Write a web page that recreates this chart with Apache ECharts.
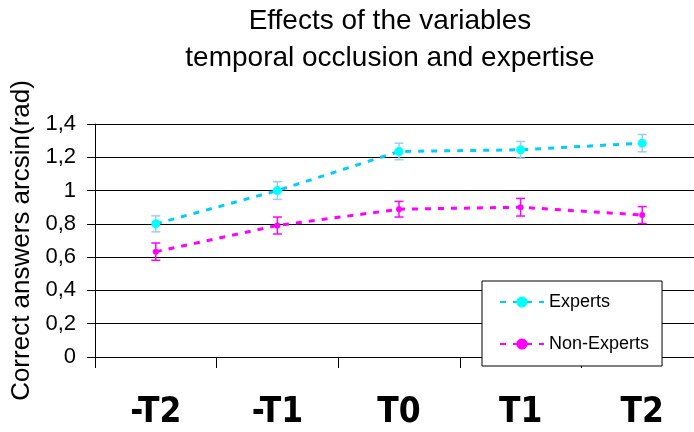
<!DOCTYPE html>
<html>
<head>
<meta charset="utf-8">
<script src="https://cdn.jsdelivr.net/npm/echarts@6/dist/echarts.min.js"></script>
<style>
    html, body { margin: 0; padding: 0; background: #fff; }
    #myChart { width: 694px; height: 432px; }
</style>
</head>
<body>
<div id="myChart"></div>
<script>
    // data
    var categories = ['-T2', '-T1', 'T0', 'T1', 'T2'];
    var experts = [0.80, 1.00, 1.235, 1.245, 1.285];
    var expertsErr = [0.048, 0.053, 0.05, 0.05, 0.052];
    var nonExperts = [0.633, 0.79, 0.888, 0.90, 0.853];
    var nonExpertsErr = [0.052, 0.051, 0.047, 0.053, 0.051];
    var yTicks = [0, 0.2, 0.4, 0.6, 0.8, 1, 1.2, 1.4];

    var myChart = echarts.init(document.getElementById('myChart'));

    // error bars as a custom series
    function errorBars(name, values, errs, color) {
        return {
            name: name,
            type: 'custom',
            z: 3,
            silent: true,
            encode: { x: 0, y: [1, 2] },
            data: values.map(function (v, i) { return [i, v - errs[i], v + errs[i]]; }),
            renderItem: function (params, api) {
                var lo = api.coord([api.value(0), api.value(1)]);
                var hi = api.coord([api.value(0), api.value(2)]);
                var w = 4.5;
                var style = { stroke: color, lineWidth: 1.5 };
                return {
                    type: 'group',
                    children: [
                        { type: 'line', shape: { x1: lo[0], y1: lo[1], x2: hi[0], y2: hi[1] }, style: style },
                        { type: 'line', shape: { x1: lo[0] - w, y1: lo[1], x2: lo[0] + w, y2: lo[1] }, style: style },
                        { type: 'line', shape: { x1: hi[0] - w, y1: hi[1], x2: hi[0] + w, y2: hi[1] }, style: style }
                    ]
                };
            }
        };
    }

    myChart.setOption({
        animation: false,
        textStyle: { fontFamily: 'Liberation Sans, Arial, sans-serif', color: '#000' },
        title: {
            text: 'Effects of the variables\ntemporal occlusion and expertise',
            left: 390,
            top: 3,
            textAlign: 'center',
            padding: 0,
            textStyle: { fontSize: 28, fontWeight: 'normal', lineHeight: 37, color: '#000' }
        },
        legend: {
            data: ['Experts', 'Non-Experts'],
            orient: 'vertical',
            left: 482,
            top: 281,
            padding: [12, 13, 13, 17],
            itemGap: 24,
            itemWidth: 44,
            itemHeight: 14,
            backgroundColor: '#fff',
            borderColor: '#000',
            borderWidth: 1,
            textStyle: { fontSize: 18, color: '#000' }
        },
        grid: {
            left: 95,
            top: 124,
            bottom: 75,
            right: -9,
            outerBoundsMode: 'none'
        },
        xAxis: {
            type: 'category',
            data: categories,
            boundaryGap: true,
            axisLine: { lineStyle: { color: '#000', width: 1 } },
            axisTick: { show: true, length: 11, lineStyle: { color: '#000' } },
            axisLabel: {
                margin: 38,
                fontSize: 35,
                fontWeight: 'bold',
                fontFamily: 'Liberation Sans Narrow, DejaVu Sans Condensed, Liberation Sans, sans-serif',
                color: '#000'
            }
        },
        yAxis: {
            type: 'value',
            min: yTicks[0],
            max: yTicks[yTicks.length - 1],
            interval: 0.2,
            name: 'Correct answers arcsin(rad)',
            nameLocation: 'middle',
            nameRotate: 90,
            nameGap: 55,
            nameTextStyle: { fontSize: 26, color: '#000' },
            axisLine: { show: true, lineStyle: { color: '#000', width: 1 } },
            axisTick: { show: true, length: 8, lineStyle: { color: '#000' } },
            axisLabel: {
                margin: 19,
                fontSize: 22,
                color: '#000',
                formatter: function (v) { return String(+v.toFixed(1)).replace('.', ','); }
            },
            splitLine: { show: true, lineStyle: { color: '#000', width: 1 } }
        },
        series: [
            {
                name: 'Experts',
                type: 'line',
                data: experts,
                symbol: 'circle',
                symbolSize: 9,
                itemStyle: { color: '#00ffff' },
                lineStyle: { color: '#00ccff', width: 3, type: [6, 7] },
                z: 4
            },
            {
                name: 'Non-Experts',
                type: 'line',
                data: nonExperts,
                symbol: 'circle',
                symbolSize: 6,
                itemStyle: { color: '#ff00ff' },
                lineStyle: { color: '#ff00ff', width: 3, type: [6, 7] },
                z: 4
            },
            errorBars('Experts error', experts, expertsErr, '#99ccff'),
            errorBars('Non-Experts error', nonExperts, nonExpertsErr, '#ff00ff')
        ]
    });
</script>
</body>
</html>
